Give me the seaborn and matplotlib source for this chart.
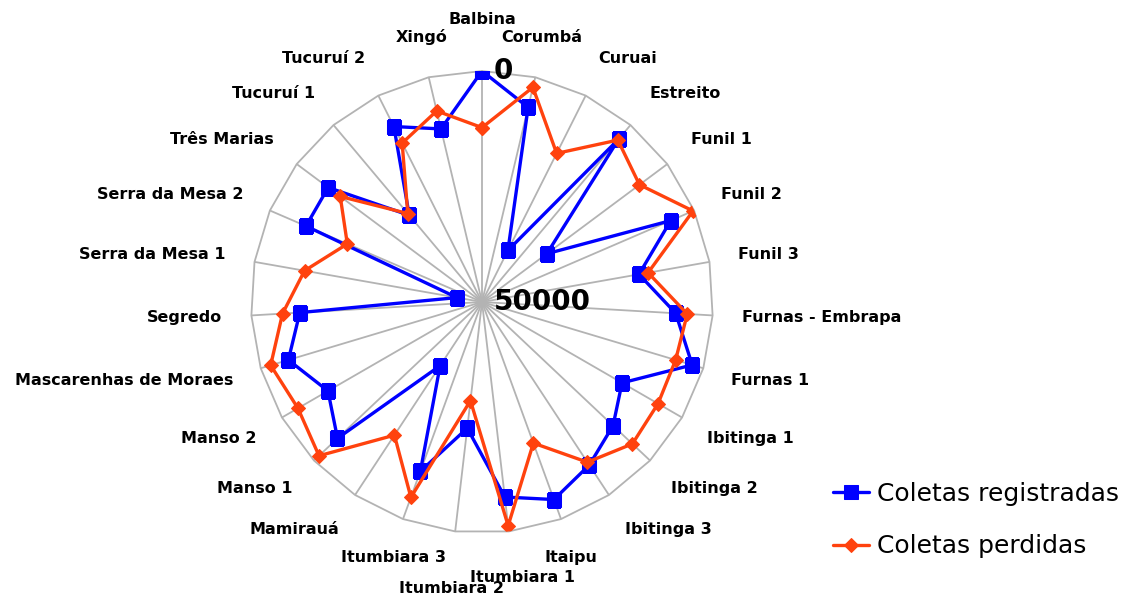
import numpy as np
import pandas as pd
import matplotlib
matplotlib.use("Agg")
import matplotlib.pyplot as plt
import seaborn as sns

# ── Data ──────────────────────────────────────────────────────
categories = [
    "Balbina", "Corumbá", "Curuai", "Estreito", "Funil 1", "Funil 2", "Funil 3",
    "Furnas - Embrapa", "Furnas 1", "Ibitinga 1", "Ibitinga 2", "Ibitinga 3",
    "Itaipu", "Itumbiara 1", "Itumbiara 2", "Itumbiara 3", "Mamirauá",
    "Manso 1", "Manso 2", "Mascarenhas de Moraes", "Segredo",
    "Serra da Mesa 1", "Serra da Mesa 2", "Três Marias", "Tucuruí 1",
    "Tucuruí 2", "Xingó",
]
registradas = [0, 6700, 37500, 4000, 32500, 5500, 15500, 8000, 2500, 15000,
               11000, 7750, 4500, 7500, 22500, 11000, 33500, 7000, 11500, 6250,
               10500, 44500, 8500, 8500, 25500, 7500, 11500]
perdidas = [12250, 2250, 14000, 4250, 7500, 250, 13500, 5500, 6250, 6000,
            5250, 8500, 17500, 1250, 28500, 5000, 15500, 1500, 4000, 2250,
            6750, 11000, 18250, 11750, 25000, 11500, 7500]
series_names = ["Coletas registradas", "Coletas perdidas"]
r_ticks = [0, 50000]

# ── Style ─────────────────────────────────────────────────────
sns.set_theme(style="white")
plt.rcParams["font.family"] = ["DejaVu Sans"]
plt.rcParams["text.color"] = "black"

BLUE = "#0000ff"
ORANGE = "#ff420e"
GRID = "#b3b3b3"

n = len(categories)
angles = np.linspace(0, 2 * np.pi, n, endpoint=False)
theta_closed = np.append(angles, 2 * np.pi)

df = pd.DataFrame({
    "theta": theta_closed,
    "registradas": registradas + registradas[:1],
    "perdidas": perdidas + perdidas[:1],
})

fig = plt.figure(figsize=(11.26, 5.96), dpi=100)
cx, cy, R = 482, 302, 231
ax = fig.add_axes([(cx - R) / 1126, (596 - cy - R) / 596, 2 * R / 1126, 2 * R / 596],
                  projection="polar")
ax.set_theta_zero_location("N")
ax.set_theta_direction(-1)

# spokes + outer polygon
ax.set_xticks(angles)
ax.set_xticklabels([])
ax.set_yticks([])
ax.xaxis.grid(True, color=GRID, lw=1.3)
ax.spines["polar"].set_visible(False)
ax.plot(theta_closed, [r_ticks[0]] * (n + 1), color=GRID, lw=1.3, clip_on=False, zorder=1)

# ── Series ────────────────────────────────────────────────────
sns.lineplot(data=df, x="theta", y="registradas", sort=False, estimator=None, ax=ax,
             color=BLUE, lw=2.4, marker="s", markersize=9.5, markeredgecolor=BLUE,
             label=series_names[0], zorder=3)
sns.lineplot(data=df, x="theta", y="perdidas", sort=False, estimator=None, ax=ax,
             color=ORANGE, lw=2.4, marker="D", markersize=7, markeredgecolor=ORANGE,
             label=series_names[1], zorder=4)
ax.set_ylim(r_ticks[1], r_ticks[0])
ax.set_xlabel("")
ax.set_ylabel("")
handles, labels = ax.get_legend_handles_labels()
if ax.get_legend() is not None:
    ax.get_legend().remove()

# ── Category labels ───────────────────────────────────────────
nudges = {"Balbina": (0, 10), "Itumbiara 1": (10, -5), "Itumbiara 2": (0, -16)}
for cat, a in zip(categories, angles):
    s, c = np.sin(a), np.cos(a)
    ha = "center" if abs(s) < 0.4 else ("left" if s > 0 else "right")
    nx, ny = nudges.get(cat, (0, 0))
    ax.annotate(cat, xy=(a, r_ticks[0]), xytext=(29 * s + nx, 41 * c + ny),
                textcoords="offset pixels", ha=ha, va="center", color="black",
                fontsize=11.5, fontweight="bold", annotation_clip=False)

# radial tick labels
for v in r_ticks:
    ax.annotate(f"{v}", xy=(0, v), xytext=(12, 0), textcoords="offset pixels",
                ha="left", va="center", fontsize=20, fontweight="bold", color="black",
                annotation_clip=False, zorder=5)

fig.legend(handles, labels, loc="center left", bbox_to_anchor=(833 / 1126, 1 - 520 / 596),
           frameon=False, fontsize=18, handlelength=1.45, handletextpad=0.3,
           labelspacing=1.15, borderpad=0, borderaxespad=0, labelcolor="black")

plt.savefig("out.png", dpi=100)
plt.close()
